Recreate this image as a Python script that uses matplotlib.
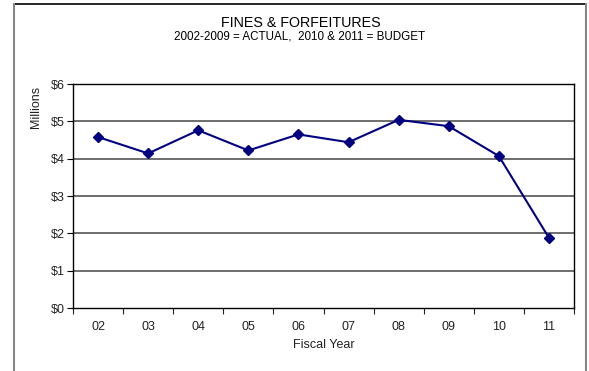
import matplotlib.pyplot as plt
import numpy as np
from matplotlib.lines import Line2D

plt.rcParams['font.family'] = ['Liberation Sans', 'DejaVu Sans']

years = ["02", "03", "04", "05", "06", "07", "08", "09", "10", "11"]
revenue = [4.58, 4.14, 4.76, 4.22, 4.65, 4.44, 5.04, 4.87, 4.07, 1.88]  # $ millions
y_ticks = [0, 1, 2, 3, 4, 5, 6]
y_labels = ["$0", "$1", "$2", "$3", "$4", "$5", "$6"]

W, H = 589, 371
fig = plt.figure(figsize=(W / 100, H / 100), dpi=100)

# plot area in pixel terms
left, right, top, bottom = 73, 574, 84, 308
ax = fig.add_axes([left / W, 1 - bottom / H, (right - left) / W, (bottom - top) / H])

x = np.arange(len(years))
ax.plot(x, revenue, color="#000080", lw=1.5, marker="D", ms=5.5,
        markerfacecolor="#000080", markeredgecolor="#000080", zorder=3)

ax.set_xlim(-0.5, len(years) - 0.5)
ax.set_ylim(0, 6)
ax.set_yticks(y_ticks)
ax.set_yticklabels(y_labels)
ax.set_xticks(x)
ax.set_xticklabels(years)
ax.set_xticks(np.arange(-0.5, len(years)), minor=True)
ax.tick_params(axis="x", which="major", length=0, pad=9, labelsize=9, colors="#222222")
ax.tick_params(axis="x", which="minor", length=4, width=0.8, direction="out", color="#222222")
ax.tick_params(axis="y", length=4, width=0.8, direction="out", pad=2, labelsize=9, colors="#222222")
ax.tick_params(axis="y", color="black")

for v in y_ticks[1:-1]:
    ax.axhline(v, color="#555555", lw=1.2, zorder=1)
for s in ax.spines.values():
    s.set_color("black")
    s.set_linewidth(1.0)

ax.set_xlabel("Fiscal Year", fontsize=9, color="#222222", labelpad=5)

fig.text(36 / W, 1 - 107 / H, "Millions", rotation=90, fontsize=9,
         color="#222222", ha="center", va="center")

fig.text(301 / W, 1 - 26.7 / H, "FINES & FORFEITURES",
         fontsize=10.3, ha="center", va="baseline", color="black")
fig.text(300 / W, 1 - 39.5 / H,
         "2002-2009 = ACTUAL,  2010 & 2011 = BUDGET",
         fontsize=8.4, ha="center", va="baseline", color="black")

# chart frame
fig.add_artist(Line2D([14 / W, 586 / W], [1 - 4 / H, 1 - 4 / H], color="black", lw=1.2))
fig.add_artist(Line2D([14 / W, 14 / W], [0, 1 - 4 / H], color="#888888", lw=1.5))
fig.add_artist(Line2D([586 / W, 586 / W], [0, 1 - 4 / H], color="#888888", lw=1.5))

fig.savefig("out.png", dpi=100)
